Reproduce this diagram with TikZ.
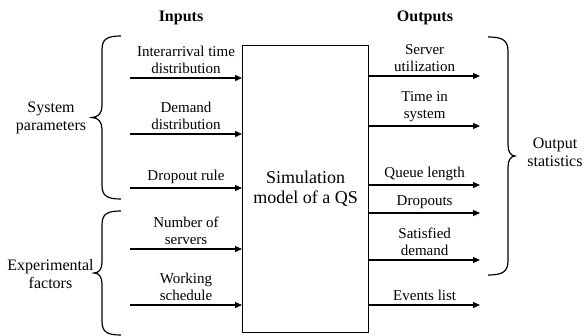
\documentclass[tikz,border=0pt]{standalone}
\usepackage{fontspec}
\setmainfont{Liberation Serif}
\usetikzlibrary{arrows.meta}
\begin{document}
\begin{tikzpicture}[x=1pt,y=-1pt,
  lbl/.style={font=\fontsize{15}{16.5}\selectfont, align=center, inner sep=1pt, anchor=south, yshift=3pt},
  side/.style={font=\fontsize{16}{18.5}\selectfont, align=center, inner sep=0pt},
  head/.style={font=\fontsize{16}{18}\selectfont\bfseries, inner sep=0pt, anchor=base},
  arr/.style={line width=1.2pt, -{Triangle[length=7pt,width=6pt]}},
  brc/.style={line width=1.2pt},
]
\useasboundingbox (0,0) rectangle (588,336);
% main block
\node[draw, line width=1.3pt, minimum width=126pt, minimum height=287pt, inner sep=0pt, anchor=north west] (box) at (242,45) {};
\node[font=\fontsize{18}{20}\selectfont, align=center, inner sep=0pt] (model) at (box.center) {Simulation\\model of a QS};
% headings
\node[head] (inputs) at (181,21.5) {Inputs};
\node[head] (outputs) at (425,21.5) {Outputs};
% input arrows
\coordinate (in1) at (130,78);
\coordinate (in2) at (130,134);
\coordinate (in3) at (130,188);
\coordinate (in4) at (130,249);
\coordinate (in5) at (130,305);
\draw[arr] (in1) -- (in1 -| box.west) node[lbl, midway] (l1) {Interarrival time\\distribution};
\draw[arr] (in2) -- (in2 -| box.west) node[lbl, midway] (l2) {Demand\\distribution};
\draw[arr] (in3) -- (in3 -| box.west) node[lbl, midway] (l3) {Dropout rule};
\draw[arr] (in4) -- (in4 -| box.west) node[lbl, midway] (l4) {Number of\\servers};
\draw[arr] (in5) -- (in5 -| box.west) node[lbl, midway] (l5) {Working\\schedule};
% output arrows
\coordinate (out1) at (480,76);
\coordinate (out2) at (480,126);
\coordinate (out3) at (480,185);
\coordinate (out4) at (480,213);
\coordinate (out5) at (480,260);
\coordinate (out6) at (480,305);
\draw[arr] (out1 -| box.east) -- (out1) node[lbl, midway] (r1) {Server\\utilization};
\draw[arr] (out2 -| box.east) -- (out2) node[lbl, midway] (r2) {Time in\\system};
\draw[arr] (out3 -| box.east) -- (out3) node[lbl, midway] (r3) {Queue length};
\draw[arr] (out4 -| box.east) -- (out4) node[lbl, midway] (r4) {Dropouts};
\draw[arr] (out5 -| box.east) -- (out5) node[lbl, midway] (r5) {Satisfied\\demand};
\draw[arr] (out6 -| box.east) -- (out6) node[lbl, midway] (r6) {Events list};
% braces
\draw[brc] (121,36) .. controls (107,36) and (102,39) .. (102,50) -- (102,106)
  .. controls (102,113) and (98,117.5) .. (92,117.5)
  .. controls (98,117.5) and (102,122) .. (102,129) -- (102,185)
  .. controls (102,196) and (107,199) .. (121,199);
\draw[brc] (121,211) .. controls (107,211) and (102,214) .. (102,225) -- (102,262)
  .. controls (102,269) and (99,273) .. (94,273)
  .. controls (99,273) and (102,277) .. (102,284) -- (102,321)
  .. controls (102,332) and (107,335) .. (121,335);
\draw[brc] (488,37) .. controls (502,37) and (508,40) .. (508,51) -- (508,145)
  .. controls (508,152) and (511,156) .. (515,156)
  .. controls (511,156) and (508,160) .. (508,167) -- (508,261)
  .. controls (508,272) and (502,275) .. (488,275);
% side labels
\node[side] (syspar) at (51,118) {System\\parameters};
\node[side] (expfac) at (50.5,274) {Experimental\\factors};
\node[side] (outstat) at (555,152.5) {Output\\statistics};
\end{tikzpicture}
\end{document}
